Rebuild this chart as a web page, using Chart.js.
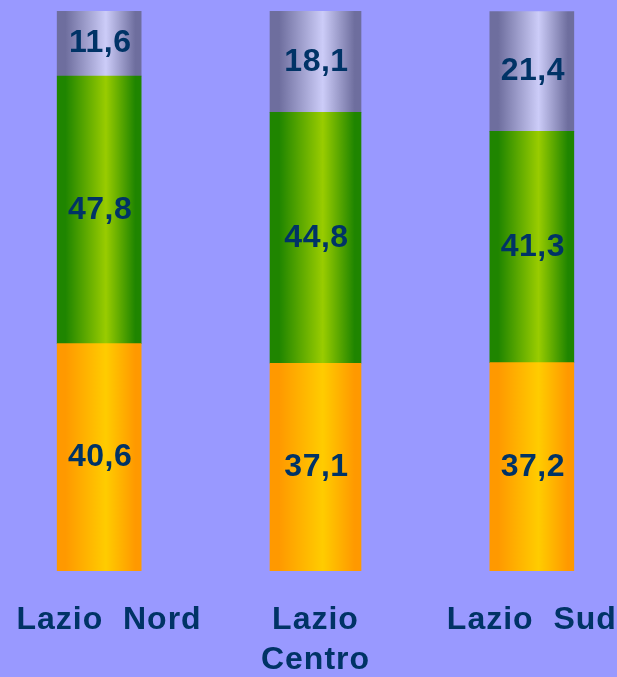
<!DOCTYPE html>
<html><head><meta charset="utf-8">
<script src="https://cdn.jsdelivr.net/npm/chart.js@4/dist/chart.umd.min.js"></script>
<style>
html,body{margin:0;padding:0;background:#9999FF;overflow:hidden;width:617px;height:677px}
#wrap{position:absolute;left:-9px;top:0;width:649px;height:677px}
</style></head><body>
<div id="wrap"><canvas id="c"></canvas></div>
<script>
const categories = ['  Lazio  Nord', ['Lazio', 'Centro'], 'Lazio  Sud'];
const bottomValues = [40.6, 37.1, 37.2];
const middleValues = [47.8, 44.8, 41.3];
const topValues = [11.6, 18.1, 21.4];

const seriesStyles = [
  { values: bottomValues, dark: '#FF9900', light: '#FFCC00' },
  { values: middleValues, dark: '#1F8500', light: '#99CC00' },
  { values: topValues, dark: '#6E6E9E', light: '#CCCCF8' }
];
// group A: Nord & Sud (narrower bars), group B: Centro (wider bar)
const groups = [
  { mask: [true, false, true], thickness: 84 },
  { mask: [false, true, false], thickness: 91 }
];

function gradientFill(dark, light, thickness) {
  return (ctx) => {
    const chart = ctx.chart;
    if (!chart.chartArea || ctx.type !== 'data') return light;
    const cx = chart.scales.x.getPixelForValue(ctx.dataIndex);
    const g = chart.ctx.createLinearGradient(cx - thickness / 2, 0, cx + thickness / 2, 0);
    g.addColorStop(0, dark);
    g.addColorStop(0.1, dark);
    g.addColorStop(0.58, light);
    g.addColorStop(0.93, dark);
    g.addColorStop(1, dark);
    return g;
  };
}

const datasets = [];
seriesStyles.forEach(s => {
  groups.forEach(gr => {
    datasets.push({
      data: s.values.map((v, i) => gr.mask[i] ? v : null),
      backgroundColor: gradientFill(s.dark, s.light, gr.thickness),
      borderWidth: 0,
      barThickness: gr.thickness,
      stack: 'all'
    });
  });
});

const valueLabels = {
  id: 'valueLabels',
  beforeDraw(chart) { chart.ctx.letterSpacing = '1px'; },
  afterDatasetsDraw(chart) {
    const ctx = chart.ctx;
    ctx.save();
    ctx.letterSpacing = '0.5px';
    ctx.font = 'bold 32px "Liberation Sans", Arial, sans-serif';
    ctx.fillStyle = '#003366';
    ctx.textAlign = 'center';
    ctx.textBaseline = 'middle';
    chart.data.datasets.forEach((ds, di) => {
      const meta = chart.getDatasetMeta(di);
      meta.data.forEach((el, i) => {
        const v = ds.data[i];
        if (v === null || v === undefined) return;
        const y = (el.y + el.base) / 2;
        ctx.fillText(v.toFixed(1).replace('.', ','), el.x + 1, y);
      });
    });
    ctx.restore();
  }
};

new Chart(document.getElementById('c'), {
  type: 'bar',
  data: { labels: categories, datasets },
  options: {
    responsive: true,
    maintainAspectRatio: false,
    animation: false,
    layout: { padding: { top: 11, bottom: 0, left: 0, right: 0 } },
    plugins: { legend: { display: false }, tooltip: { enabled: false } },
    scales: {
      x: {
        stacked: true,
        grid: { display: false, drawTicks: false },
        border: { display: false },
        ticks: {
          color: '#003366',
          autoSkip: false,
          maxRotation: 0,
          minRotation: 0,
          padding: 29,
          font: { family: '"Liberation Sans", Arial, sans-serif', size: 32, weight: 'bold', lineHeight: 1.25 }
        },
        afterFit(scale) {
          scale.height = 106;
          scale.paddingLeft = 0;
          scale.paddingRight = 0;
        }
      },
      y: {
        stacked: true,
        display: false,
        min: 0,
        max: 100
      }
    }
  },
  plugins: [valueLabels]
});
</script>
</body></html>
